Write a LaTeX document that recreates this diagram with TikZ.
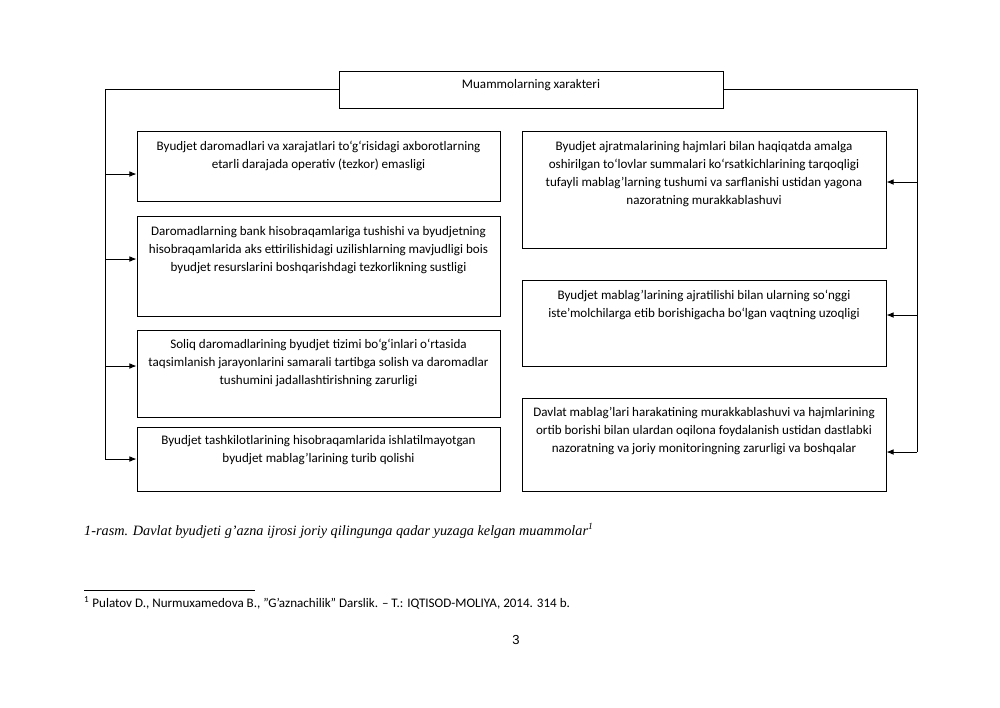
\documentclass[tikz,border=0pt]{standalone}
\usepackage{fontspec}
\setmainfont{Carlito}
\newfontfamily\capfont{Liberation Serif}
\newfontfamily\pnfont{Liberation Sans}
\usetikzlibrary{arrows.meta,fit,calc}
\begin{document}
\begin{tikzpicture}[x=0.842pt,y=-0.842pt,
 box/.style={draw=black,line width=0.8pt,inner sep=0pt},
 txt/.style={font=\fontsize{11}{15.2}\selectfont,align=center,anchor=north,inner sep=0pt},
 link/.style={line width=0.7pt},
 arr/.style={link,-{Latex[length=6pt,width=4.8pt]}}]
\useasboundingbox (0,0) rectangle (1000,707);
% top box
\node[box,fit={(339,71) (723,108)}] (top) {};
\node[txt] (topt) at (531,79) {Muammolarning xarakteri};
% left boxes
\node[box,fit={(137,131) (500,201)}] (L1) {};
\node[box,fit={(137,216) (500,316)}] (L2) {};
\node[box,fit={(137,330) (500,417)}] (L3) {};
\node[box,fit={(137,427) (500,491)}] (L4) {};
% right boxes
\node[box,fit={(522,131) (886,248)}] (R1) {};
\node[box,fit={(522,280) (886,366)}] (R2) {};
\node[box,fit={(522,398) (886,491)}] (R3) {};
% texts
\node[txt] (L1t) at (318.5,141) {Byudjet daromadlari va xarajatlari to‘g‘risidagi axborotlarning\\etarli darajada operativ (tezkor) emasligi};
\node[txt] (L2t) at (318.5,226) {Daromadlarning bank hisobraqamlariga tushishi va byudjetning\\hisobraqamlarida aks ettirilishidagi uzilishlarning mavjudligi bois\\byudjet resurslarini boshqarishdagi tezkorlikning sustligi};
\node[txt] (L3t) at (318.5,339) {Soliq daromadlarining byudjet tizimi bo‘g‘inlari o‘rtasida\\taqsimlanish jarayonlarini samarali tartibga solish va daromadlar\\tushumini jadallashtirishning zarurligi};
\node[txt] (L4t) at (318.5,435) {Byudjet tashkilotlarining hisobraqamlarida ishlatilmayotgan\\byudjet mablag’larining turib qolishi};
\node[txt] (R1t) at (704,141) {Byudjet ajratmalarining hajmlari bilan haqiqatda amalga\\oshirilgan to‘lovlar summalari ko‘rsatkichlarining tarqoqligi\\tufayli mablag’larning tushumi va sarflanishi ustidan yagona\\nazoratning murakkablashuvi};
\node[txt] (R2t) at (704,290) {Byudjet mablag’larining ajratilishi bilan ularning so‘nggi\\iste’molchilarga etib borishigacha bo‘lgan vaqtning uzoqligi};
\node[txt] (R3t) at (704,407) {Davlat mablag’lari harakatining murakkablashuvi va hajmlarining\\ortib borishi bilan ulardan oqilona foydalanish ustidan dastlabki\\nazoratning va joriy monitoringning zarurligi va boshqalar};
% left connectors
\coordinate (a1) at (105,174);
\coordinate (a2) at (105,259);
\coordinate (a3) at (105,366);
\coordinate (a4) at (105,459);
\draw[link] (top.west) -| (a4);
\draw[arr] (a1) -- (a1 -| L1.west);
\draw[arr] (a2) -- (a2 -| L2.west);
\draw[arr] (a3) -- (a3 -| L3.west);
\draw[arr] (a4) -- (a4 -| L4.west);
% right connectors
\coordinate (b1) at (917,182);
\coordinate (b2) at (917,315);
\coordinate (b3) at (917,452);
\draw[link] (top.east) -| (b3);
\draw[arr] (b1) -- (b1 -| R1.east);
\draw[arr] (b2) -- (b2 -| R2.east);
\draw[arr] (b3) -- (b3 -| R3.east);
% caption and footnote
\node[anchor=base west,inner sep=0pt,font=\capfont\itshape\fontsize{12}{14}\selectfont] (cap) at (84,535) {1-rasm. Davlat byudjeti g’azna ijrosi joriy qilingunga qadar yuzaga kelgan muammolar\textsuperscript{\fontsize{8}{8}\selectfont 1}};
\coordinate (fr1) at (84,590);
\coordinate (fr2) at (255,590);
\draw[line width=0.8pt] (fr1) -- (fr2);
\node[anchor=base west,inner sep=0pt,font=\fontsize{11}{13}\selectfont] (fn) at (84,607) {\textsuperscript{1} Pulatov D., Nurmuxamedova B., \symbol{"22}G’aznachilik\symbol{"22} Darslik. – T.: IQTISOD-MOLIYA, 2014. 314 b.};
\node[anchor=base,inner sep=0pt,font=\pnfont\fontsize{11}{13}\selectfont] (pn) at (516,644) {3};
\end{tikzpicture}
\end{document}
